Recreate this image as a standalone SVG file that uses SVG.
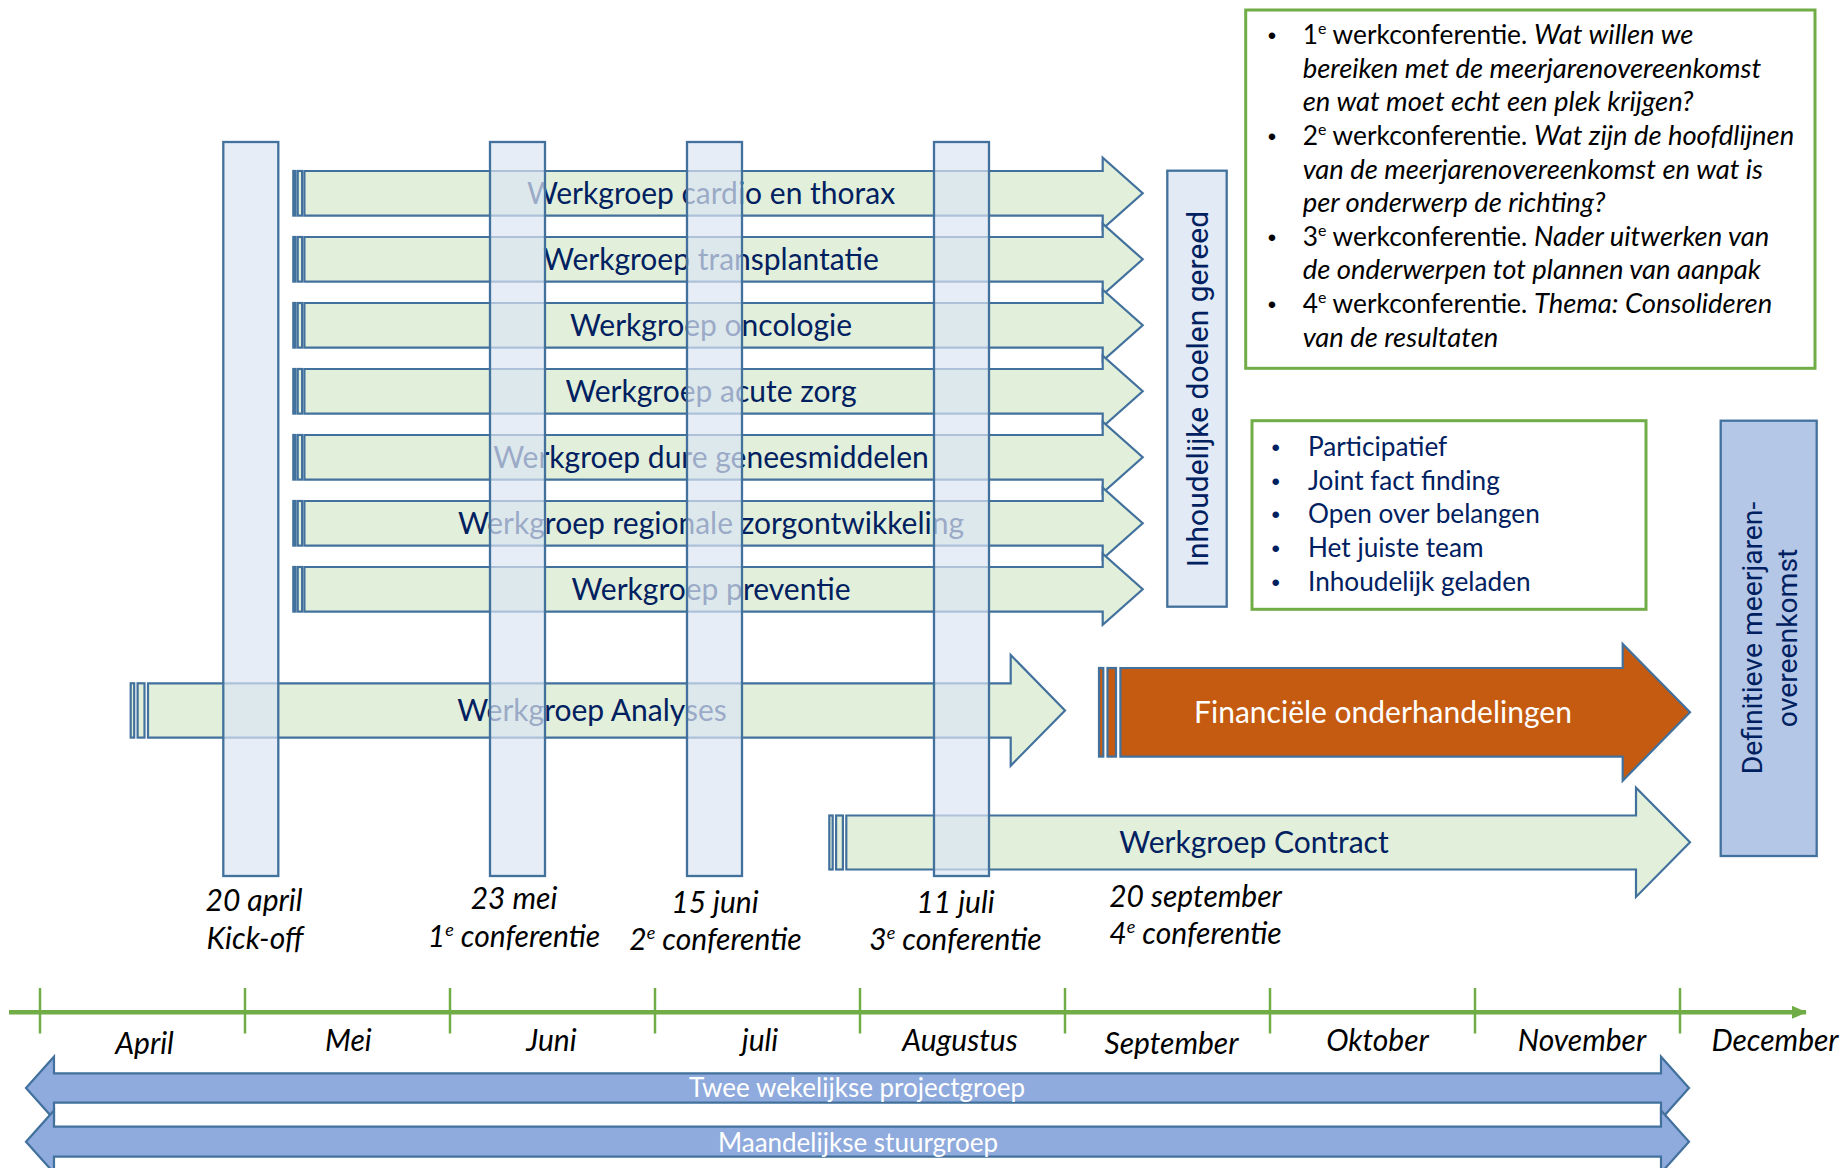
<svg xmlns="http://www.w3.org/2000/svg" xmlns:xlink="http://www.w3.org/1999/xlink" width="1845" height="1168" viewBox="0 0 1845 1168">
<style>
  .bar { fill:#DCE6F4; fill-opacity:0.7; stroke:#41719C; stroke-width:2.3; }
  .garrow { fill:#E2EFDA; stroke:#41719C; stroke-width:2.2; }
  .oarrow { fill:#C55A11; stroke:#41719C; stroke-width:2.2; }
  .barrow { fill:#8FAADC; stroke:#41719C; stroke-width:2.2; }
  .gbox { fill:#FFFFFF; stroke:#70AD47; stroke-width:3; }
  text { stroke:none; }
  .lbl { font-family:Lato, "Liberation Sans", sans-serif; font-size:30px; fill:#002060; text-anchor:middle; }
  .wlbl { font-family:Lato, "Liberation Sans", sans-serif; font-size:30px; fill:#FFFFFF; text-anchor:middle; }
  .blbl { font-family:Lato, "Liberation Sans", sans-serif; font-size:26px; fill:#FFFFFF; text-anchor:middle; }
  .date { font-family:Lato, "Liberation Sans", sans-serif; font-size:30px; font-style:italic; fill:#000000; text-anchor:middle; }
  .month { font-family:Lato, "Liberation Sans", sans-serif; font-size:30px; font-style:italic; fill:#000000; text-anchor:middle; }
  .note { font-family:Lato, "Liberation Sans", sans-serif; font-size:26.3px; fill:#000000; }
  .bul { font-family:"Liberation Sans", sans-serif; font-size:24px; text-anchor:middle; }
  .pt { font-family:Lato, "Liberation Sans", sans-serif; font-size:26.2px; fill:#002060; }
  .rot { font-family:Roboto, "Open Sans", sans-serif; fill:#002060; text-anchor:middle; }
  .axis { stroke:#70AD47; stroke-width:4.5; fill:none; }
  .tick { stroke:#70AD47; stroke-width:2.5; }
  .it { font-style:italic; font-size:27.4px; }
</style>
<defs>
  <g id="wg" class="garrow">
    <rect x="293.3" y="171" width="2.2" height="44.6"/>
    <rect x="297.7" y="171" width="4.4" height="44.6"/>
    <path d="M304.4,171 H1102.7 V157.8 L1142.7,193.3 L1102.7,228.8 V215.6 H304.4 Z"/>
  </g>
  <marker id="axisHead" markerWidth="4" markerHeight="4" refX="3.2" refY="1.5" orient="auto" markerUnits="strokeWidth">
    <path d="M0,0 L3.4,1.5 L0,3 Z" fill="#70AD47"/>
  </marker>
</defs>

<!-- Workgroup arrows -->
<g id="wg-cardio"><use xlink:href="#wg" href="#wg"/><text class="lbl" x="711" y="203.5">Werkgroep cardio en thorax</text></g>
<g id="wg-transplantatie" transform="translate(0,66)"><use xlink:href="#wg" href="#wg"/><text class="lbl" x="711" y="203.5">Werkgroep transplantatie</text></g>
<g id="wg-oncologie" transform="translate(0,132)"><use xlink:href="#wg" href="#wg"/><text class="lbl" x="711" y="203.5">Werkgroep oncologie</text></g>
<g id="wg-acute" transform="translate(0,198)"><use xlink:href="#wg" href="#wg"/><text class="lbl" x="711" y="203.5">Werkgroep acute zorg</text></g>
<g id="wg-dure" transform="translate(0,264)"><use xlink:href="#wg" href="#wg"/><text class="lbl" x="711" y="203.5">Werkgroep dure geneesmiddelen</text></g>
<g id="wg-regionale" transform="translate(0,330)"><use xlink:href="#wg" href="#wg"/><text class="lbl" x="711" y="203.5">Werkgroep regionale zorgontwikkeling</text></g>
<g id="wg-preventie" transform="translate(0,396)"><use xlink:href="#wg" href="#wg"/><text class="lbl" x="711" y="203.5">Werkgroep preventie</text></g>

<!-- Analyses -->
<g id="wg-analyses">
  <rect class="garrow" x="130.7" y="683.3" width="3.5" height="54.3"/>
  <rect class="garrow" x="137.6" y="683.3" width="6.9" height="54.3"/>
  <path class="garrow" d="M148,683.3 H1010.7 V655 L1065,710.4 L1010.7,765.7 V737.6 H148 Z"/>
  <text class="lbl" x="592" y="720.5">Werkgroep Analyses</text>
</g>

<!-- Financiele onderhandelingen -->
<g id="financieel">
  <rect class="oarrow" x="1099" y="668" width="4.3" height="88.6"/>
  <rect class="oarrow" x="1107.5" y="668" width="8.5" height="88.6"/>
  <path class="oarrow" d="M1120.4,668 H1622.7 V644 L1690,712.3 L1622.7,780.7 V756.6 H1120.4 Z"/>
  <text class="wlbl" x="1383" y="722.5">Financiële onderhandelingen</text>
</g>

<!-- Contract -->
<g id="wg-contract">
  <rect class="garrow" x="829.3" y="815.5" width="3.4" height="54"/>
  <rect class="garrow" x="836.1" y="815.5" width="6.8" height="54"/>
  <path class="garrow" d="M846.3,815.5 H1636 V787.7 L1690,842.3 L1636,896.9 V869.5 H846.3 Z"/>
  <text class="lbl" x="1254" y="853">Werkgroep Contract</text>
</g>

<!-- Milestone bars -->
<g id="bar-kickoff"><rect class="bar" x="223.3" y="142" width="55" height="734"/></g>
<g id="bar-conf1"><rect class="bar" x="490" y="142" width="55" height="734"/></g>
<g id="bar-conf2"><rect class="bar" x="687" y="142" width="55" height="734"/></g>
<g id="bar-conf3"><rect class="bar" x="934" y="142" width="55" height="734"/></g>

<!-- Date labels -->
<g id="date-kickoff"><text class="date" x="254" y="910.7">20 april</text><text class="date" x="255" y="949.3">Kick-off</text></g>
<g id="date-conf1"><text class="date" x="514" y="909.3">23 mei</text><text class="date" x="514" y="946.7">1<tspan dy="-11" font-size="18">e</tspan><tspan dy="11"> conferentie</tspan></text></g>
<g id="date-conf2"><text class="date" x="715" y="912.7">15 juni</text><text class="date" x="715.5" y="950">2<tspan dy="-11" font-size="18">e</tspan><tspan dy="11"> conferentie</tspan></text></g>
<g id="date-conf3"><text class="date" x="955.5" y="912.7">11 juli</text><text class="date" x="955.5" y="950">3<tspan dy="-11" font-size="18">e</tspan><tspan dy="11"> conferentie</tspan></text></g>
<g id="date-conf4"><text class="date" x="1195.5" y="906.7">20 september</text><text class="date" x="1195.5" y="944">4<tspan dy="-11" font-size="18">e</tspan><tspan dy="11"> conferentie</tspan></text></g>

<!-- Inhoudelijke doelen gereed -->
<g id="doelen-gereed">
  <rect x="1167.3" y="170.7" width="59.4" height="436" fill="#E2EAF6" stroke="#41719C" stroke-width="2.3"/>
  <text class="rot" font-size="30" transform="translate(1208,389) rotate(-90)">Inhoudelijke doelen gereed</text>
</g>

<!-- Conference notes box -->
<g id="conferenties">
  <rect class="gbox" x="1245.7" y="10" width="569.3" height="358.3"/>
  <text class="bul" x="1272" y="44.2">•</text>
  <text class="bul" x="1272" y="145">•</text>
  <text class="bul" x="1272" y="245.8">•</text>
  <text class="bul" x="1272" y="313">•</text>
  <text class="note" x="1302.7" y="44.2">1<tspan dy="-10" font-size="16">e</tspan><tspan dy="10"> werkconferentie. </tspan><tspan class="it">Wat willen we</tspan></text>
  <text class="note it" x="1302.7" y="77.8">bereiken met de meerjarenovereenkomst</text>
  <text class="note it" x="1302.7" y="111.4">en wat moet echt een plek krijgen?</text>
  <text class="note" x="1302.7" y="145">2<tspan dy="-10" font-size="16">e</tspan><tspan dy="10"> werkconferentie. </tspan><tspan class="it">Wat zijn de hoofdlijnen</tspan></text>
  <text class="note it" x="1302.7" y="178.6">van de meerjarenovereenkomst en wat is</text>
  <text class="note it" x="1302.7" y="212.2">per onderwerp de richting?</text>
  <text class="note" x="1302.7" y="245.8">3<tspan dy="-10" font-size="16">e</tspan><tspan dy="10"> werkconferentie. </tspan><tspan class="it">Nader uitwerken van</tspan></text>
  <text class="note it" x="1302.7" y="279.4">de onderwerpen tot plannen van aanpak</text>
  <text class="note" x="1302.7" y="313">4<tspan dy="-10" font-size="16">e</tspan><tspan dy="10"> werkconferentie. </tspan><tspan class="it">Thema: Consolideren</tspan></text>
  <text class="note it" x="1302.7" y="346.6">van de resultaten</text>
</g>

<!-- Principles box -->
<g id="principes">
  <rect class="gbox" x="1252" y="420.7" width="394" height="188.6"/>
  <text class="bul" fill="#002060" x="1275.8" y="456">•</text>
  <text class="bul" fill="#002060" x="1275.8" y="489.7">•</text>
  <text class="bul" fill="#002060" x="1275.8" y="523.4">•</text>
  <text class="bul" fill="#002060" x="1275.8" y="557.1">•</text>
  <text class="bul" fill="#002060" x="1275.8" y="590.8">•</text>
  <text class="pt" x="1308" y="456">Participatief</text>
  <text class="pt" x="1308" y="489.7">Joint fact finding</text>
  <text class="pt" x="1308" y="523.4">Open over belangen</text>
  <text class="pt" x="1308" y="557.1">Het juiste team</text>
  <text class="pt" x="1308" y="590.8">Inhoudelijk geladen</text>
</g>

<!-- Definitieve meerjarenovereenkomst -->
<g id="definitief">
  <rect x="1720.7" y="420.7" width="96" height="435.3" fill="#B4C7E7" stroke="#41719C" stroke-width="2.3"/>
  <text class="rot" font-size="28.3" transform="translate(1762,638) rotate(-90)">Definitieve meerjaren-</text>
  <text class="rot" font-size="28.3" transform="translate(1797,638) rotate(-90)">overeenkomst</text>
</g>

<!-- Timeline -->
<g id="timeline">
  <line class="axis" x1="9" y1="1012.3" x2="1806" y2="1012.3" marker-end="url(#axisHead)"/>
  <line class="tick" x1="40" y1="988" x2="40" y2="1033.5"/>
  <line class="tick" x1="245" y1="988" x2="245" y2="1033.5"/>
  <line class="tick" x1="450" y1="988" x2="450" y2="1033.5"/>
  <line class="tick" x1="655" y1="988" x2="655" y2="1033.5"/>
  <line class="tick" x1="860" y1="988" x2="860" y2="1033.5"/>
  <line class="tick" x1="1065" y1="988" x2="1065" y2="1033.5"/>
  <line class="tick" x1="1270" y1="988" x2="1270" y2="1033.5"/>
  <line class="tick" x1="1475" y1="988" x2="1475" y2="1033.5"/>
  <line class="tick" x1="1680" y1="988" x2="1680" y2="1033.5"/>
  <text class="month" x="144.5" y="1054">April</text>
  <text class="month" x="348.3" y="1050.7">Mei</text>
  <text class="month" x="551.5" y="1050.7">Juni</text>
  <text class="month" x="760" y="1050.7">juli</text>
  <text class="month" x="960" y="1050.7">Augustus</text>
  <text class="month" x="1171.5" y="1054">September</text>
  <text class="month" x="1377.5" y="1050.7">Oktober</text>
  <text class="month" x="1582" y="1050.7">November</text>
  <text class="month" x="1775" y="1050.7">December</text>
</g>

<!-- Bottom governance arrows -->
<g id="projectgroep">
  <path class="barrow" d="M26,1088 L54,1056.7 V1073.3 H1661 V1056.7 L1689,1088 L1661,1119.3 V1102.7 H54 V1119.3 Z"/>
  <text class="blbl" x="857" y="1097">Twee wekelijkse projectgroep</text>
</g>
<g id="stuurgroep">
  <path class="barrow" d="M26,1141.7 L54,1110.4 V1126.7 H1661 V1110.4 L1689,1141.7 L1661,1173 V1156.7 H54 V1173 Z"/>
  <text class="blbl" x="858" y="1151.5">Maandelijkse stuurgroep</text>
</g>
</svg>
